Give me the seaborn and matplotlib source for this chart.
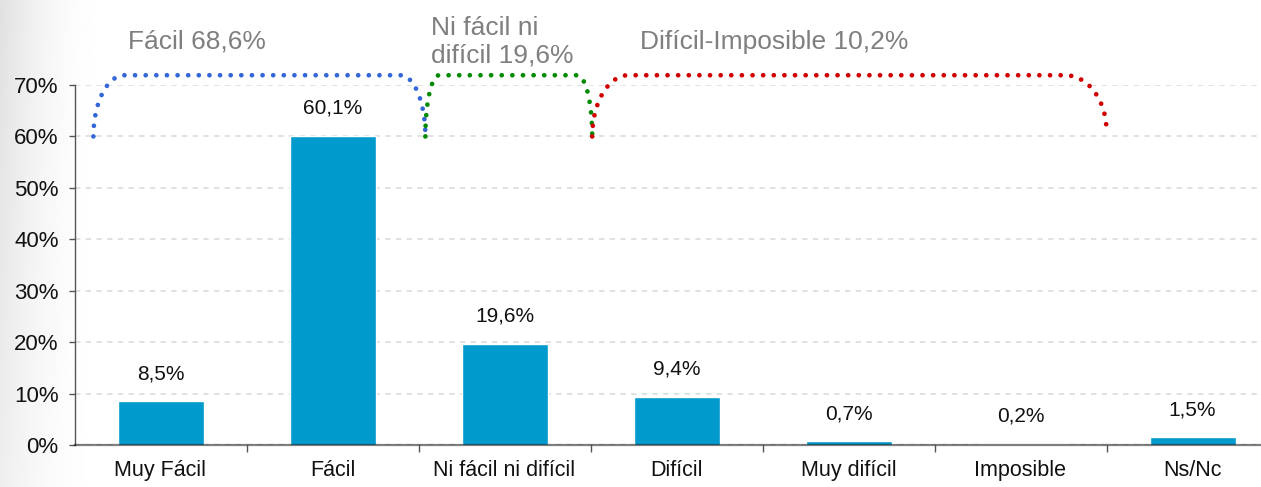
import numpy as np
import pandas as pd
import matplotlib.pyplot as plt
import seaborn as sns
from matplotlib.ticker import FuncFormatter, FixedLocator

sns.set_theme(style="white")
plt.rcParams["font.family"] = ["Liberation Sans", "DejaVu Sans"]

# ─────────────────────────────────────────────
# Data
# ─────────────────────────────────────────────
categories = ["Muy Fácil", "Fácil", "Ni fácil ni difícil", "Difícil",
              "Muy difícil", "Imposible", "Ns/Nc"]
values = [8.5, 60.1, 19.6, 9.4, 0.7, 0.2, 1.5]

group_labels = ["Fácil 68,6%", "Ni fácil ni\ndifícil 19,6%", "Difícil-Imposible 10,2%"]
group_first = [0, 2, 3]
group_last = [1, 2, 5]
group_colors = ["#3366D6", "#008A00", "#D00000"]

BAR_COLOR = "#009ACD"
GRAY_TEXT = "#7F7F7F"

df = pd.DataFrame({"cat": categories, "val": values})

# ─────────────────────────────────────────────
# Figure
# ─────────────────────────────────────────────
W, H = 1261, 487
fig = plt.figure(figsize=(W / 100, H / 100), dpi=100)

# slide-like background: soft gray fading in from the left edge
bg = fig.add_axes([0, 0, 1, 1], zorder=-5)
gx = np.linspace(0, 1, 600)[None, :]
gy = np.linspace(0, 1, 200)[:, None]
shade = np.clip(1 - gx / 0.09, 0, 1) ** 2.2
shade = shade * (0.55 + 0.45 * (1 - gy))
img = 1 - 0.12 * shade
bg.imshow(img, cmap="gray", vmin=0, vmax=1, aspect="auto",
          extent=[0, 1, 0, 1], interpolation="bilinear")
bg.axis("off")

ax = fig.add_axes([74.5 / W, 42 / H, 1204 / W, 360 / H])
ax.patch.set_alpha(0)

sns.barplot(data=df, x="cat", y="val", color=BAR_COLOR, saturation=1,
            width=0.5, ax=ax, zorder=2)

ax.set_xlim(-0.5, 6.5)
ax.set_ylim(0, 70)
ax.set_xlabel("")
ax.set_ylabel("")

# value labels
for i, v in enumerate(values):
    ax.annotate(f"{v:.1f}".replace(".", ",") + "%", (i, v),
                xytext=(0, 20), textcoords="offset points",
                ha="center", va="center", fontsize=15, color="#111111")

# axes styling
ax.yaxis.set_major_locator(FixedLocator(range(0, 71, 10)))
ax.yaxis.set_major_formatter(FuncFormatter(lambda y, _: f"{y:.0f}%"))
ax.grid(axis="y", color="#D9D9D9", linestyle=(0, (3.5, 3.5)), linewidth=1.1, zorder=0)
ax.set_axisbelow(True)
ax.tick_params(axis="y", which="major", direction="out", length=4.5, width=1,
               color="#555555", pad=7, labelsize=16, labelcolor="#111111", left=True)
ax.tick_params(axis="x", which="major", length=0, pad=11, labelsize=15.5,
               labelcolor="#111111")
ax.xaxis.set_minor_locator(FixedLocator(np.arange(0.5, 6.5, 1)))
ax.tick_params(axis="x", which="minor", direction="out", length=5, width=1,
               color="#555555", bottom=True)

for s in ["top", "right"]:
    ax.spines[s].set_visible(False)
ax.spines["left"].set_color("#555555")
ax.spines["left"].set_linewidth(1)
ax.spines["bottom"].set_color((0, 0, 0, 0.5))
ax.spines["bottom"].set_linewidth(1.6)
ax.spines["bottom"].set_zorder(3)


# ─────────────────────────────────────────────
# Group brackets
# ─────────────────────────────────────────────
def bracket(x0, x1, yl, yr, ytop, rl, rr, color):
    t = np.linspace(0, np.pi / 2, 40)
    lx = x0 + rl - rl * np.cos(t)
    ly = yl + (ytop - yl) * np.sin(t)
    rx = x1 - rr + rr * np.sin(t)
    ry = yr + (ytop - yr) * np.cos(t)
    xs = np.concatenate([lx, rx])
    ys = np.concatenate([ly, ry])
    line, = ax.plot(xs, ys, color=color, linewidth=3.4, clip_on=False,
                    linestyle=(0, (0.01, 2.24)), zorder=4)
    line.set_dash_capstyle("round")


pads_left = [0.39, 0.46, 0.49]
pads_right = [0.54, 0.51, 0.50]
radii_left = [0.18, 0.08, 0.21]
radii_right = [0.145, 0.087, 0.24]
bottoms_right = [60, 60, 61]
label_dx = [0.2, 0.03, 0.28]

for k in range(3):
    x0 = group_first[k] - pads_left[k]
    x1 = group_last[k] + pads_right[k]
    bracket(x0, x1, 60, bottoms_right[k], 71.9, radii_left[k], radii_right[k],
            group_colors[k])
    ax.text(x0 + label_dx[k], 78.4, group_labels[k], ha="left", va="center",
            fontsize=19, color=GRAY_TEXT, linespacing=1.2, clip_on=False)

plt.savefig("out.png", dpi=100)
plt.close()
